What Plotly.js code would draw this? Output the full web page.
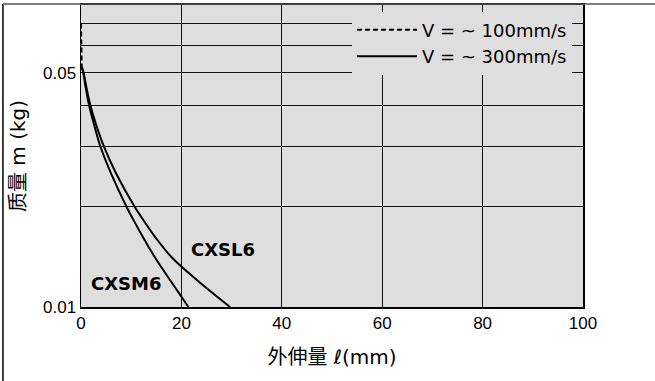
<!DOCTYPE html>
<html>
<head>
<meta charset="utf-8">
<script src="https://cdn.plot.ly/plotly-3.0.1.min.js"></script>
<style>html,body{margin:0;padding:0;background:#fff;}#chart{width:655px;height:381px;}</style>
</head>
<body>
<div id="chart"></div>
<script>
// Overhang ℓ (mm) and load mass m (kg)
const smX = [0.15, 0.45, 0.95, 1.6, 2.6, 3.9, 6.0, 9.0, 10.6, 12.5, 14.8, 17.8, 21.4];
const smY = [0.052, 0.05, 0.045, 0.04, 0.035, 0.03, 0.025, 0.02, 0.018, 0.016, 0.014, 0.012, 0.01];
const slX = [0.15, 0.5, 1.1, 1.85, 3.0, 4.6, 7.0, 10.6, 12.6, 15.0, 18.2, 23.2, 29.7];
const slY = [0.052, 0.05, 0.045, 0.04, 0.035, 0.03, 0.025, 0.02, 0.018, 0.016, 0.014, 0.012, 0.01];
const dashX = [0.0, 0.15];
const dashY = [0.07, 0.052];
const xTicks = [0, 20, 40, 60, 80, 100];
const yTicks = [0.01, 0.02, 0.03, 0.04, 0.05, 0.06, 0.07];
const yTickText = ["0.01", "", "", "", "0.05", "", ""];
const legendNames = ["V = ~ 100mm/s", "V = ~ 300mm/s"];
const seriesLabels = ["CXSM6", "CXSL6"];
const labelPos = {CXSM6: [9.0, 0.01177], CXSL6: [28.3, 0.01485]};

const FONT = "Liberation Sans, Arial, Noto Sans CJK SC, sans-serif";
const FONT2 = "DejaVu Sans, Noto Sans CJK SC, sans-serif";
const traces = [
  {x: dashX, y: dashY, mode: "lines", name: legendNames[0], showlegend: true,
   line: {color: "#000", width: 2, dash: "5px,3px"}},
  {x: smX, y: smY, mode: "lines", name: legendNames[1], showlegend: true,
   line: {color: "#000", width: 2, shape: "spline", smoothing: 1}},
  {x: slX, y: slY, mode: "lines", name: seriesLabels[1], showlegend: false,
   line: {color: "#000", width: 2, shape: "spline", smoothing: 1}}
];

const layout = {
  width: 655, height: 381,
  margin: {l: 81, r: 72, t: 5, b: 74},
  paper_bgcolor: "#ffffff",
  plot_bgcolor: "#dedede",
  font: {family: FONT, size: 17, color: "#000"},
  showlegend: true,
  legend: {x: 0.978, xanchor: "right", y: 0.978, yanchor: "top",
    bgcolor: "#dedede", borderwidth: 0, font: {size: 18, family: FONT2},
    tracegroupgap: 0, itemwidth: 60},
  xaxis: {range: [0, 100], tickvals: xTicks, ticktext: xTicks.map(String),
    showgrid: true, gridcolor: "#111", gridwidth: 1,
    showline: true, linecolor: "#000", linewidth: 2, mirror: true,
    zeroline: false, ticks: "", ticklen: 0,
    tickfont: {size: 17, family: FONT},
    title: {text: "外伸量 ℓ(mm)", font: {size: 20, family: FONT2}, standoff: 18}},
  yaxis: {type: "log", range: [-2, Math.log10(0.0795)],
    tickvals: yTicks, ticktext: yTickText,
    showgrid: true, gridcolor: "#111", gridwidth: 1,
    showline: true, linecolor: "#000", linewidth: 1.5, mirror: true,
    zeroline: false, ticks: "", tickfont: {size: 17, family: FONT},
    title: {text: "质量 m (kg)", font: {size: 20, family: FONT2}, standoff: 12}},
  annotations: seriesLabels.map(function (s) {
    return {x: labelPos[s][0], y: Math.log10(labelPos[s][1]), xref: "x", yref: "y",
      text: "<b>" + s + "</b>", showarrow: false,
      font: {size: 18, family: FONT2, color: "#000"}};
  }),
  shapes: [
    {type: "line", xref: "paper", yref: "paper", x0: -0.1555, x1: -0.1555, y0: -0.3, y1: 1.003,
     line: {color: "#000", width: 1.5}},
    {type: "line", xref: "paper", yref: "paper", x0: -0.1555, x1: 1.15, y0: 1.003, y1: 1.003,
     line: {color: "#555", width: 1.5}}
  ]
};

Plotly.newPlot("chart", traces, layout, {displayModeBar: false, staticPlot: true});
</script>
</body>
</html>
